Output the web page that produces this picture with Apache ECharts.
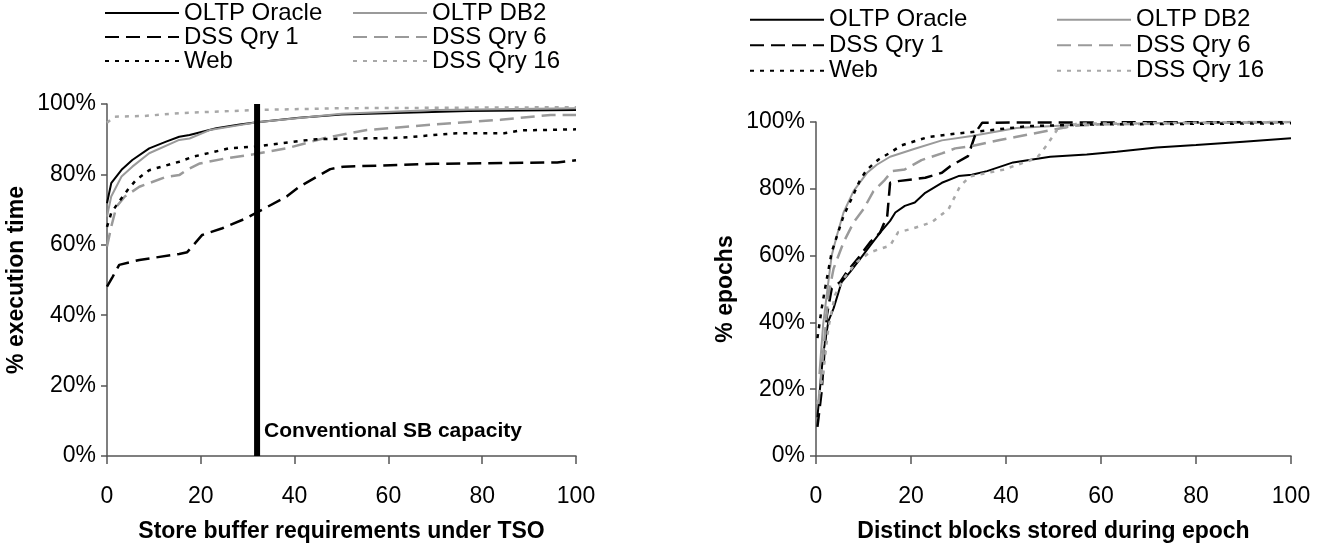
<!DOCTYPE html>
<html>
<head>
<meta charset="utf-8">
<script src="https://cdn.jsdelivr.net/npm/echarts@6/dist/echarts.min.js"></script>
<style>
  html, body { margin: 0; padding: 0; background: #fff; }
  #chart { width: 1321px; height: 548px; }
</style>
</head>
<body>
<div id="chart"></div>
<script>
// series names, legend order (two columns)
var legendColA = ["OLTP Oracle", "DSS Qry 1", "Web"];
var legendColB = ["OLTP DB2", "DSS Qry 6", "DSS Qry 16"];
var yTicks = [0, 20, 40, 60, 80, 100];

// left: store buffer requirements under TSO  [entries, % execution time]
var tsoOracle = [[0,71.8],[0.9,77.5],[3.1,81.3],[5.4,84.1],[9,87.4],[12.6,89.3],[15.4,90.7],[17.6,91.2],[23.3,93.1],[28.3,94.2],[32,94.8],[41,96.1],[50,97],[77,98],[100,98.3]];
var tsoDB2 = [[0,68],[0.9,73.7],[3.1,79.4],[5.4,82.2],[9,86],[15.4,89.8],[17.6,90.2],[21.9,92.6],[28.3,94],[32,94.8],[41,96],[50,97.2],[70,98.3],[100,98.8]];
var tsoQry1 = [[0,48.1],[1.2,50.9],[2.6,54.3],[6.9,55.7],[15.4,57.4],[17.1,57.9],[20.3,62.8],[24.6,64.7],[29.6,67.5],[31.7,69],[38.3,73.7],[41,76.5],[47.6,81.5],[50.4,82.2],[62.5,82.7],[69.7,83],[96,83.4],[100,84]];
var tsoQry6 = [[0,59.5],[0.9,65.1],[2,70.8],[3.8,73.7],[6.9,76.5],[12.6,79.3],[15.4,79.8],[16.9,81.2],[19.8,83.1],[25.5,84.6],[31.2,85.7],[38.3,87.4],[46.9,90.5],[55.4,92.6],[69.7,94.2],[83.9,95.5],[94.6,96.9],[100,96.9]];
var tsoWeb = [[0,65.1],[0.9,69],[2.3,71.8],[4.4,75.6],[6.2,78.4],[9,81.2],[15.4,83.6],[18.3,85],[26,87.4],[31.7,87.9],[41,89.5],[44.7,90],[62.5,90.4],[74.6,91.7],[84.7,91.7],[88.2,92.5],[100,92.8]];
var tsoQry16 = [[0,94.7],[1.6,96.4],[8,96.6],[15.4,97.4],[31.9,98.3],[50,98.8],[100,99.1]];
var sbCapacity = 32;

// right: distinct blocks stored during epoch  [blocks, % epochs]
var epOracle = [[0.3,11.6],[1.5,30.4],[2.6,40.3],[3.7,44.2],[5.4,52.1],[7.2,55.1],[9.3,59],[11.4,63],[13.5,66.9],[15.6,70.4],[16.7,72.9],[18.7,74.9],[20.8,75.9],[23,78.8],[26.5,81.8],[30,83.8],[32.8,84.2],[36,85.3],[41.5,87.9],[49.3,89.6],[57,90.3],[63.3,91.1],[71.7,92.4],[80,93.1],[90,94.1],[100,95.1]];
var epDB2 = [[0.7,24.5],[1.5,39.3],[2.6,52.1],[3.3,60],[4.4,66],[5.8,72.9],[7.9,79.3],[10.7,84.7],[12.8,87.2],[15.6,89.6],[20.8,92],[26.5,94.5],[32.8,95.8],[42.2,98.2],[55,99.2],[70,99.6],[100,100]];
var epQry1 = [[0.3,8.7],[1.2,19.5],[2.3,42.2],[3.3,50.1],[5.1,52.1],[6.5,55.1],[9.3,60],[11.4,64],[13.5,66.9],[15,71.9],[15.6,81.8],[17.3,82.3],[23,83.3],[26.5,84.8],[28.2,86.7],[32,89.8],[33.8,97.3],[35,99.8],[100,100]];
var epQry6 = [[0.5,15.6],[1.5,30.4],[2.6,48.2],[3.7,56.1],[5.8,64],[7.9,69.9],[10,73.9],[12.1,79.3],[14.5,82.7],[16,85.3],[18.7,85.8],[22.2,88.6],[26.5,90.6],[29.3,92.1],[32.8,92.8],[38.7,94.6],[42,95.5],[49.3,97.5],[54,98.8],[60,99.3],[100,100]];
var epWeb = [[0.3,35.3],[1.2,44.2],[1.9,50.1],[3.3,61],[5.8,71.9],[7.9,78.3],[9.3,82.7],[10.7,85.7],[13.1,88.7],[15.6,90.8],[18,93],[23.6,95.5],[29.3,96.5],[36.3,97.5],[45,98.8],[60,99.3],[100,99.6]];
var epQry16 = [[0.3,15.6],[1.5,24.5],[2.6,38.3],[4,48.2],[5.8,53.1],[8.6,58.1],[11.4,61],[15.6,63],[17.3,67],[20.1,68],[24.4,70],[27.9,73.9],[30.3,80.7],[32.4,83.7],[39.4,85.7],[46.5,89.2],[48.6,93.1],[50.7,97.5],[55,99.5],[100,100]];

var FONT = "'Liberation Sans', Arial, sans-serif";

var styles = {
  "OLTP Oracle": { color: "#000", width: 2, type: "solid" },
  "OLTP DB2": { color: "#9a9a9a", width: 2, type: "solid" },
  "DSS Qry 1": { color: "#000", width: 2.5, type: [14, 7] },
  "DSS Qry 6": { color: "#9a9a9a", width: 2.5, type: [14, 7] },
  "Web": { color: "#000", width: 2.5, type: [4, 6] },
  "DSS Qry 16": { color: "#a8a8a8", width: 2.5, type: [4, 6] }
};

function makeSeries(name, data, idx) {
  var s = styles[name];
  return {
    name: name,
    type: "line",
    xAxisIndex: idx,
    yAxisIndex: idx,
    data: data,
    symbol: "none",
    smooth: false,
    color: s.color,
    lineStyle: { color: s.color, width: s.width, type: s.type },
    animation: false
  };
}

function makeLegend(data, left, top, lh) {
  return {
    data: data,
    orient: "vertical",
    left: left,
    top: top,
    padding: 0,
    itemGap: 0,
    itemWidth: 74,
    itemHeight: 14,
    selectedMode: false,
    itemStyle: { opacity: 0 },
    textStyle: { fontFamily: FONT, fontSize: 24, color: "#000", lineHeight: lh }
  };
}

function xAxisFor(idx, title) {
  return {
    type: "value",
    gridIndex: idx,
    min: 0,
    max: 100,
    interval: 20,
    name: title,
    nameLocation: "middle",
    nameGap: 64,
    nameTextStyle: { fontFamily: FONT, fontSize: 23, fontWeight: "bold", color: "#000" },
    axisLine: { show: true, lineStyle: { color: "#555", width: 1.5 } },
    axisTick: { show: true, length: 8, lineStyle: { color: "#555", width: 1.5 } },
    axisLabel: { margin: 29, fontFamily: FONT, fontSize: 23, color: "#000" },
    splitLine: { show: false }
  };
}

function yAxisFor(idx, title) {
  return {
    type: "value",
    gridIndex: idx,
    min: 0,
    max: 100,
    interval: 20,
    name: title,
    nameLocation: "middle",
    nameGap: 79,
    nameTextStyle: { fontFamily: FONT, fontSize: 23, fontWeight: "bold", color: "#000" },
    axisLine: { show: true, lineStyle: { color: "#555", width: 1.5 } },
    axisTick: { show: true, length: 6, lineStyle: { color: "#555", width: 1.5 } },
    axisLabel: { margin: 11, fontFamily: FONT, fontSize: 23, color: "#000", formatter: "{value}%" },
    splitLine: { show: false }
  };
}

var chart = echarts.init(document.getElementById("chart"), null, { renderer: "canvas" });

var option = {
  backgroundColor: "#fff",
  animation: false,
  legend: [
    makeLegend(legendColA, 104, 1, 24),
    makeLegend(legendColB, 352, 1, 24),
    makeLegend(legendColA, 749, 7, 25.5),
    makeLegend(legendColB, 1056, 7, 25.5)
  ],
  grid: [
    { left: 107, top: 104, width: 469, height: 352 },
    { left: 816, top: 122, width: 475, height: 337 }
  ],
  xAxis: [
    xAxisFor(0, "Store buffer requirements under TSO"),
    xAxisFor(1, "Distinct blocks stored during epoch")
  ],
  yAxis: [
    yAxisFor(0, "% execution time"),
    yAxisFor(1, "% epochs")
  ],
  series: [
    makeSeries("OLTP Oracle", tsoOracle, 0),
    makeSeries("OLTP DB2", tsoDB2, 0),
    makeSeries("DSS Qry 1", tsoQry1, 0),
    makeSeries("DSS Qry 6", tsoQry6, 0),
    makeSeries("Web", tsoWeb, 0),
    makeSeries("DSS Qry 16", tsoQry16, 0),
    {
      name: "Conventional SB capacity",
      type: "line",
      xAxisIndex: 0,
      yAxisIndex: 0,
      symbol: "circle",
      symbolSize: 0,
      showSymbol: true,
      lineStyle: { color: "#000", width: 6 },
      itemStyle: { color: "#000" },
      z: 5,
      data: [
        {
          value: [sbCapacity, 0],
          label: {
            show: true,
            position: "right",
            distance: 5,
            offset: [2, -25],
            formatter: "Conventional SB capacity",
            fontFamily: FONT,
            fontSize: 21,
            fontWeight: "bold",
            color: "#000"
          }
        },
        [sbCapacity, 100]
      ],
      animation: false
    },
    makeSeries("OLTP Oracle", epOracle, 1),
    makeSeries("OLTP DB2", epDB2, 1),
    makeSeries("DSS Qry 1", epQry1, 1),
    makeSeries("DSS Qry 6", epQry6, 1),
    makeSeries("Web", epWeb, 1),
    makeSeries("DSS Qry 16", epQry16, 1)
  ]
};

chart.setOption(option);
</script>
</body>
</html>
